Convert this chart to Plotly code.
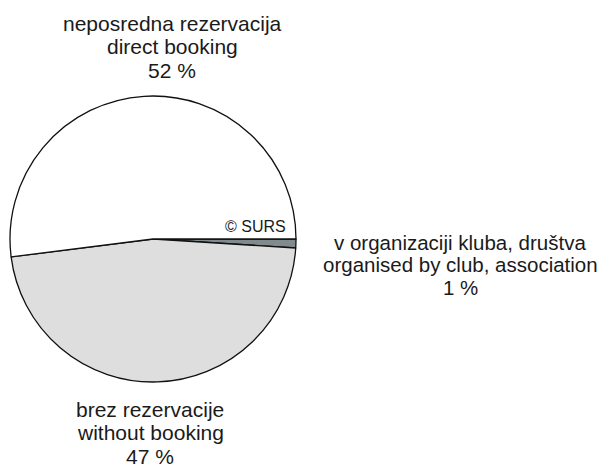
import plotly.graph_objects as go

names = ["v organizaciji kluba, društva|organised by club, association",
         "brez rezervacije|without booking",
         "neposredna rezervacija|direct booking"]
values = [1, 47, 52]
colors = ["#818b8d", "#dedede", "#ffffff"]

W, H = 608, 467
OFF = 8  # page body margin offset in the browser
fig = go.Figure(go.Pie(
    labels=[n.replace("|", " / ") for n in names], values=values, sort=False,
    direction="clockwise", rotation=90,
    marker=dict(colors=colors, line=dict(color="#111111", width=1.3)),
    textinfo="none", hoverinfo="skip", showlegend=False,
    domain=dict(x=[(10 - OFF) / W, (296 - OFF) / W], y=[1 - (382 - OFF) / H, 1 - (96 - OFF) / H]),
))

# (x center, first line y, line step, font size) in reference pixel coords
pos = [(460, 242, 22.5, 20.5), (150, 409, 23.5, 21), (172, 23, 23.5, 21)]
anns = []
for name, v, (x, y0, dy, fs) in zip(names, values, pos):
    lines = name.split("|") + [f"{v} %"]
    for i, ln in enumerate(lines):
        anns.append(dict(text=ln, x=(x - OFF) / W, y=1 - (y0 + i * dy - OFF) / H,
                         xref="paper", yref="paper", showarrow=False,
                         xanchor="center", yanchor="middle",
                         font=dict(family="Liberation Sans, Arial, sans-serif", size=fs, color="#1a1a1a")))
anns.append(dict(text="© SURS", x=(255 - OFF) / W, y=1 - (226 - OFF) / H, xref="paper", yref="paper",
                 showarrow=False, xanchor="center", yanchor="middle",
                 font=dict(family="Liberation Sans, Arial, sans-serif", size=16, color="#1a1a1a")))

fig.update_layout(width=W, height=H, margin=dict(l=0, r=0, t=0, b=0),
                  paper_bgcolor="white", plot_bgcolor="white", annotations=anns)
fig.write_html("out.html")
